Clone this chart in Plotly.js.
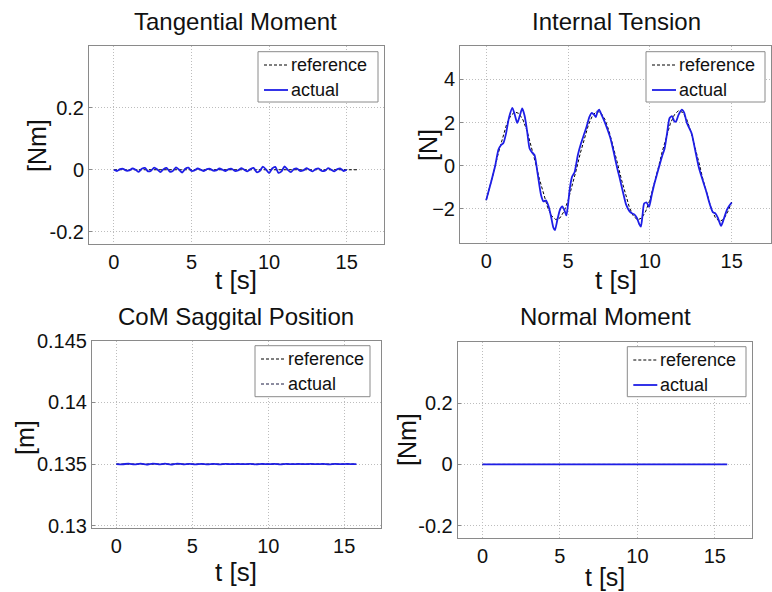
<!DOCTYPE html>
<html>
<head>
<meta charset="utf-8">
<script src="https://cdn.plot.ly/plotly-3.0.1.min.js"></script>
<style>html,body{margin:0;padding:0;background:#fff}#chart{width:772px;height:592px}</style>
</head>
<body>
<div id="chart"></div>
<script>
// ---------- Tangential Moment ----------
const tmRefT = [0, 15.7];
const tmRefV = [0, 0];
const tmActT = [0,0.2,0.4,0.6,0.8,1.0,1.2,1.4,1.6,1.8,2.0,2.2,2.4,2.6,2.8,3.0,3.2,3.4,3.6,3.8,4.0,4.2,4.4,4.6,4.8,5.0,5.2,5.4,5.6,5.8,6.0,6.2,6.4,6.6,6.8,7.0,7.2,7.4,7.6,7.8,8.0,8.2,8.4,8.6,8.8,9.0,9.2,9.4,9.6,9.8,10.0,10.2,10.4,10.6,10.8,11.0,11.2,11.4,11.6,11.8,12.0,12.2,12.4,12.6,12.8,13.0,13.2,13.4,13.6,13.8,14.0,14.2,14.4,14.6,14.8,15.0];
const tmActV = [0,-0.004,0.002,0.003,-0.003,-0.002,0.004,0.000,-0.007,0.003,0.006,-0.005,-0.003,0.007,0.001,-0.008,0.002,0.006,-0.006,-0.004,0.008,0.000,-0.009,0.003,0.007,-0.004,-0.002,0.004,0.000,-0.004,0.002,0.003,-0.003,-0.002,0.004,0.000,-0.004,0.002,0.003,-0.004,-0.002,0.005,0.000,-0.005,0.002,0.006,-0.008,-0.004,0.010,0.001,-0.011,0.004,0.009,-0.010,-0.005,0.011,0.000,-0.008,0.002,0.004,-0.004,-0.002,0.005,0.000,-0.005,0.002,0.004,-0.004,-0.003,0.005,0.000,-0.005,0.002,0.004,-0.004,0.000];

// ---------- Internal Tension ----------
const itRefT = [0,0.25,0.5,0.75,1.0,1.25,1.5,1.75,2.0,2.25,2.5,2.75,3.0,3.25,3.5,3.75,4.0,4.25,4.5,4.75,5.0,5.25,5.5,5.75,6.0,6.25,6.5,6.75,7.0,7.25,7.5,7.75,8.0,8.25,8.5,8.75,9.0,9.25,9.5,9.75,10.0,10.25,10.5,10.75,11.0,11.25,11.5,11.75,12.0,12.25,12.5,12.75,13.0,13.25,13.5,13.75,14.0,14.25,14.5,14.75,15.0];
const itRefV = [-1.60,-0.93,-0.17,0.61,1.33,1.92,2.32,2.49,2.42,2.12,1.60,0.93,0.17,-0.61,-1.33,-1.92,-2.32,-2.49,-2.42,-2.12,-1.62,-0.95,-0.20,0.58,1.30,1.90,2.33,2.52,2.46,2.15,1.62,0.95,0.18,-0.60,-1.33,-1.93,-2.34,-2.50,-2.42,-2.10,-1.58,-0.90,-0.14,0.64,1.36,1.95,2.36,2.55,2.47,2.15,1.60,0.92,0.14,-0.65,-1.38,-1.98,-2.40,-2.58,-2.48,-2.15,-1.68];
const itActT = [0,0.3,0.55,0.75,0.9,1.05,1.2,1.4,1.6,1.75,1.9,2.05,2.2,2.35,2.5,2.65,2.8,2.95,3.15,3.35,3.5,3.65,3.8,3.95,4.1,4.2,4.35,4.5,4.65,4.8,4.9,5.0,5.1,5.25,5.4,5.6,5.8,6.0,6.15,6.3,6.45,6.6,6.7,6.8,6.9,7.05,7.2,7.4,7.6,7.8,8.0,8.15,8.35,8.55,8.75,8.9,9.05,9.2,9.35,9.45,9.55,9.65,9.8,9.95,10.1,10.25,10.45,10.6,10.75,10.9,11.05,11.2,11.35,11.5,11.6,11.75,11.95,12.1,12.25,12.4,12.55,12.8,13.0,13.2,13.45,13.65,13.85,14.0,14.15,14.35,14.5,14.7,14.85,15.0];
const itActV = [-1.59,-0.75,0.0,0.75,0.95,1.05,1.45,2.25,2.68,2.35,1.98,2.3,2.65,2.3,1.6,0.8,0.62,0.5,-0.4,-1.35,-1.65,-1.6,-1.85,-2.3,-2.85,-2.98,-2.5,-2.05,-1.88,-2.1,-2.3,-1.8,-1.1,-0.5,-0.3,0.5,1.05,1.5,1.85,2.25,2.45,2.35,2.25,2.5,2.6,2.35,2.1,1.7,1.25,0.6,-0.1,-0.55,-1.2,-1.8,-2.1,-2.2,-2.25,-2.4,-2.7,-2.82,-2.3,-1.75,-1.7,-1.9,-1.4,-0.9,-0.35,0.05,0.45,0.8,1.5,2.2,2.3,2.05,2.05,2.35,2.6,2.45,2.0,1.75,1.5,0.6,-0.1,-0.6,-1.2,-1.75,-2.15,-2.2,-2.4,-2.78,-2.5,-2.05,-1.85,-1.7];

// ---------- CoM Saggital Position ----------
const comRefT = [0, 15.8];
const comRefV = [0.13500, 0.13500];
const comActT = [0,0.4,0.8,1.2,1.6,2.0,2.4,2.8,3.2,3.6,4.0,4.4,4.8,5.2,5.6,6.0,6.4,6.8,7.2,7.6,8.0,8.4,8.8,9.2,9.6,10.0,10.4,10.8,11.2,11.6,12.0,12.4,12.8,13.2,13.6,14.0,14.4,14.8,15.2,15.6,15.8];
const comActV = [0.13500,0.13498,0.13503,0.13497,0.13503,0.13496,0.13504,0.13497,0.13503,0.13496,0.13504,0.13498,0.13502,0.13498,0.13501,0.13498,0.13501,0.13498,0.13501,0.13499,0.13501,0.13499,0.13501,0.13498,0.13501,0.13499,0.13501,0.13498,0.13501,0.13499,0.13501,0.13499,0.13501,0.13499,0.13501,0.13498,0.13501,0.13499,0.13501,0.13499,0.13500];

// ---------- Normal Moment ----------
const nmRefT = [0, 15.8];
const nmRefV = [0, 0];
const nmActT = [0, 15.8];
const nmActV = [0, 0];

const titles = ["Tangential Moment", "Internal Tension", "CoM Saggital Position", "Normal Moment"];
const yUnits = ["[Nm]", "[N]", "[m]", "[Nm]"];
const xLabel = "t [s]";
const xTicks = [0, 5, 10, 15];
const momentTicks = [-0.2, 0, 0.2];
const momentTickText = ["-0.2", "0", "0.2"];
const tensionTicks = [-2, 0, 2, 4];
const comTicks = [0.13, 0.135, 0.14, 0.145];
const comTickText = ["0.13", "0.135", "0.14", "0.145"];
const seriesNames = ["reference", "actual"];

const W = 772, H = 592;
const BLUE = "#1e1ee6";
const FONT = "Arial, 'Liberation Sans', sans-serif";
const REF_LINE = {color: "#000", width: 1, dash: "3px,2px"};

function refTrace(x, y, xa, ya) {
  return {x: x, y: y, xaxis: xa, yaxis: ya, type: "scatter", mode: "lines", name: seriesNames[0],
    showlegend: false, line: REF_LINE};
}
function actTrace(x, y, xa, ya) {
  return {x: x, y: y, xaxis: xa, yaxis: ya, type: "scatter", mode: "lines", name: seriesNames[1],
    showlegend: false, line: {color: BLUE, width: 1.8, shape: "spline", smoothing: 0.6}};
}

const data = [
  refTrace(tmRefT, tmRefV, "x", "y"),
  actTrace(tmActT, tmActV, "x", "y"),
  refTrace(itRefT, itRefV, "x2", "y2"),
  actTrace(itActT, itActV, "x2", "y2"),
  refTrace(comRefT, comRefV, "x3", "y3"),
  actTrace(comActT, comActV, "x3", "y3"),
  refTrace(nmRefT, nmRefV, "x4", "y4"),
  actTrace(nmActT, nmActV, "x4", "y4")
];

function px(x0, x1) { return [x0 / W, x1 / W]; }
function py(top, bot) { return [1 - bot / H, 1 - top / H]; }

const axBase = {
  showline: true, mirror: true, linecolor: "#8a8a8a", linewidth: 1,
  showgrid: true, gridcolor: "#bdbdbd", griddash: "1px,2px", gridwidth: 1,
  zeroline: false, ticks: "inside", ticklen: 3, tickcolor: "#8a8a8a",
  tickfont: {family: FONT, size: 20, color: "#111"}, fixedrange: true
};
function xax(dom, anchor) {
  return Object.assign({}, axBase, {domain: dom, anchor: anchor, range: [-1.6, 17.4],
    tickmode: "array", tickvals: xTicks, ticks: "outside", ticklen: 0, tickcolor: "rgba(0,0,0,0)"});
}
function yax(dom, anchor, range, vals, text) {
  const o = Object.assign({}, axBase, {domain: dom, anchor: anchor, range: range,
    tickmode: "array", tickvals: vals});
  if (text) o.ticktext = text;
  return o;
}

function ann(text, x, y, size, angle, anchor) {
  return {text: text, x: x / W, y: 1 - y / H, xref: "paper", yref: "paper", showarrow: false,
    xanchor: anchor || "center", yanchor: "middle", textangle: angle || 0,
    font: {family: FONT, size: size, color: "#111"}};
}

// custom legend boxes (pixel placement) : [x0, y0, x1, y1, actualIsDashed]
const legendBoxes = [[258, 51.7, 378, 102, false], [646, 51.7, 765, 102, false],
                     [255, 345.7, 370, 396.7, true], [627.3, 346.7, 746, 396.7, false]];
const shapes = [];
const legAnn = [];
legendBoxes.forEach(function (b) {
  shapes.push({type: "rect", xref: "paper", yref: "paper", x0: b[0] / W, x1: b[2] / W,
    y0: 1 - b[3] / H, y1: 1 - b[1] / H, line: {color: "#8a8a8a", width: 1}, fillcolor: "#fff"});
  const r1 = b[1] + 13.3, r2 = b[1] + 38.3;
  shapes.push({type: "line", xref: "paper", yref: "paper", x0: (b[0] + 6) / W, x1: (b[0] + 30) / W,
    y0: 1 - r1 / H, y1: 1 - r1 / H, line: REF_LINE});
  shapes.push({type: "line", xref: "paper", yref: "paper", x0: (b[0] + 6) / W, x1: (b[0] + 30) / W,
    y0: 1 - r2 / H, y1: 1 - r2 / H,
    line: b[4] ? {color: "#1a1a40", width: 1, dash: "3px,2px"} : {color: BLUE, width: 1.8}});
  legAnn.push(ann(seriesNames[0], b[0] + 30.5, r1, 18, 0, "left"));
  legAnn.push(ann(seriesNames[1], b[0] + 30.5, r2, 18, 0, "left"));
});

const layout = {
  width: W, height: H, margin: {l: 0, r: 0, t: 0, b: 0},
  paper_bgcolor: "#fff", plot_bgcolor: "#fff", font: {family: FONT},
  showlegend: false,
  xaxis: xax(px(89, 384), "y"),
  yaxis: yax(py(46, 244), "x", [-0.24, 0.40], momentTicks, momentTickText),
  xaxis2: xax(px(460, 771), "y2"),
  yaxis2: yax(py(46, 242.7), "x2", [-3.56, 5.54], tensionTicks),
  xaxis3: xax(px(92, 380.7), "y3"),
  yaxis3: yax(py(340.7, 528.3), "x3", [0.12979, 0.145], comTicks, comTickText),
  xaxis4: xax(px(457.7, 752), "y4"),
  yaxis4: yax(py(341.7, 538), "x4", [-0.24, 0.40], momentTicks, momentTickText),
  shapes: shapes,
  annotations: [
    ann(titles[0], 236, 21, 24), ann(titles[1], 616, 21, 24),
    ann(titles[2], 236, 316, 24), ann(titles[3], 605, 316, 24),
    ann(xLabel, 236, 280, 26), ann(xLabel, 616, 280, 26),
    ann(xLabel, 236, 572, 26), ann(xLabel, 605, 577, 25),
    ann(yUnits[0], 37, 146, 25, -90), ann(yUnits[1], 428, 145, 25, -90),
    ann(yUnits[2], 25, 437, 25, -90), ann(yUnits[3], 407, 440, 25, -90)
  ].concat(legAnn)
};

Plotly.newPlot("chart", data, layout, {displayModeBar: false, staticPlot: true});
</script>
</body>
</html>
